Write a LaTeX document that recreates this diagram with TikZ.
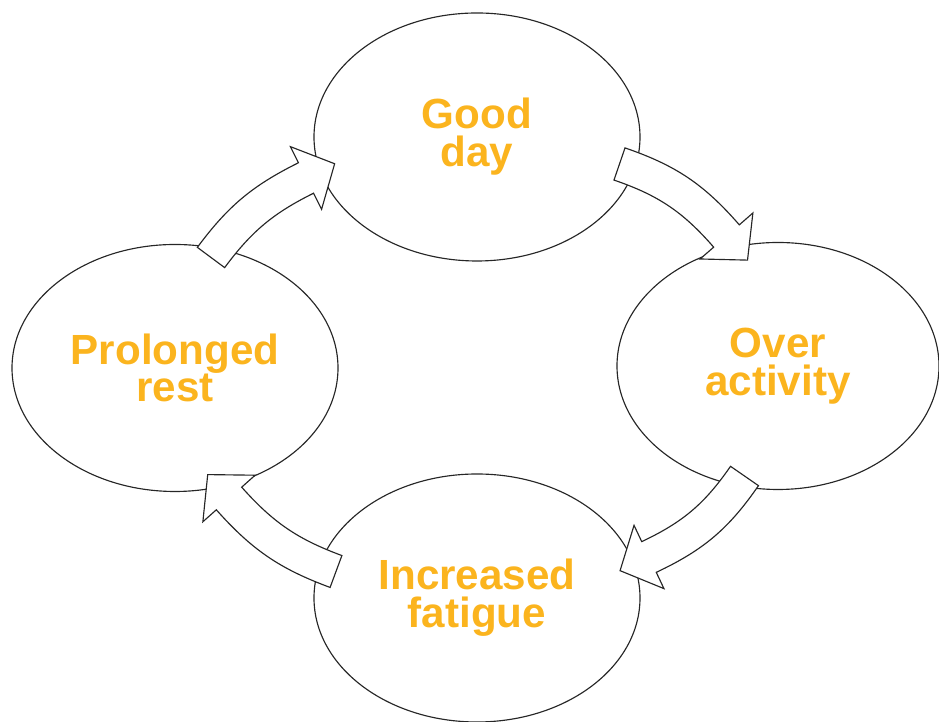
\documentclass[tikz,border=0pt]{standalone}
\usepackage{fontspec}
\setmainfont{Liberation Sans}
\usepackage{xcolor}
\usetikzlibrary{shapes.geometric, calc}

\definecolor{amber}{RGB}{251,180,30}

% curved block arrow: #1 tail centre, #2 head base centre, #3 bend
\newcommand{\cycarrow}[3]{%
  \pgfmathsetmacro{\cycTl}{#3+90}\pgfmathsetmacro{\cycTr}{#3-90}%
  \pgfmathsetmacro{\cycHl}{-90-#3}\pgfmathsetmacro{\cycHr}{90-#3}%
  \pgfmathsetmacro{\cycTip}{180-#3}%
  \draw[cyc] ($(#1)!0.34cm!\cycTl:(#2)$) to[bend left=#3] ($(#2)!0.34cm!\cycHl:(#1)$)
    -- ($(#2)!0.70cm!\cycHl:(#1)$) -- ($(#2)!0.64cm!\cycTip:(#1)$)
    -- ($(#2)!0.70cm!\cycHr:(#1)$) -- ($(#2)!0.34cm!\cycHr:(#1)$)
    to[bend right=#3] ($(#1)!0.34cm!\cycTr:(#2)$) -- cycle;
}

\begin{document}
\begin{tikzpicture}[
  phase/.style={draw=black!85, ellipse, line width=0.65pt, inner sep=0pt,
                minimum width=6.52cm, minimum height=4.96cm, align=center,
                font=\bfseries\fontsize{24}{21.5}\selectfont, text=amber},
  cyc/.style={draw=black!85, fill=white, line width=0.65pt, line join=miter}
]
\useasboundingbox (0,0) rectangle (18.78,14.44);

\node[phase] (good) at (9.54,11.70) {Good\\day};
\node[phase, minimum width=6.44cm, minimum height=4.94cm] (over) at (15.56,7.12) {Over\\activity};
\node[phase, minimum height=4.94cm] (rest) at (3.50,7.08) {Prolonged\\rest};
\node[phase] (fatigue) at (9.54,2.48) {Increased\\fatigue};

% arrow ends, clockwise from the left
\coordinate (rest-out)    at (4.22,9.29);  \coordinate (good-in)    at (6.12,10.88);
\coordinate (good-out)    at (12.39,11.16); \coordinate (over-in)   at (14.53,9.72);
\coordinate (over-out)    at (14.89,4.92);  \coordinate (fatigue-in) at (12.98,3.30);
\coordinate (fatigue-out) at (6.72,3.01);   \coordinate (rest-in)    at (4.58,4.47);

\cycarrow{rest-out}{good-in}{13.5}
\cycarrow{good-out}{over-in}{15}
\cycarrow{over-out}{fatigue-in}{15}
\cycarrow{fatigue-out}{rest-in}{14}
\end{tikzpicture}
\end{document}
